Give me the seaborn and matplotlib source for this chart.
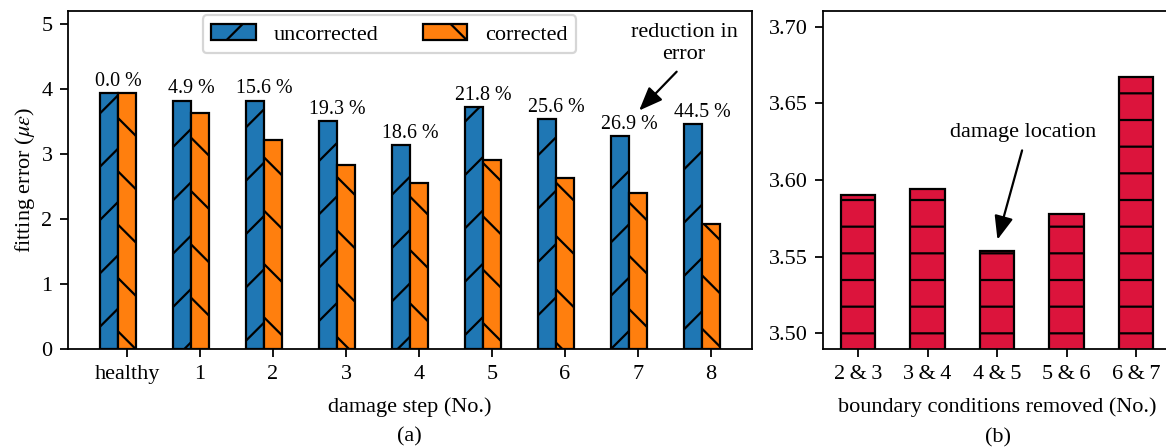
import numpy as np
import pandas as pd
import matplotlib
matplotlib.use("Agg")
import matplotlib.pyplot as plt
import seaborn as sns

# Data
steps = ["healthy", "1", "2", "3", "4", "5", "6", "7", "8"]
uncorrected = [3.93, 3.82, 3.82, 3.51, 3.13, 3.72, 3.53, 3.27, 3.46]
corrected = [3.93, 3.63, 3.22, 2.835, 2.55, 2.91, 2.63, 2.395, 1.92]
reduction = ["0.0 %", "4.9 %", "15.6 %", "19.3 %", "18.6 %",
             "21.8 %", "25.6 %", "26.9 %", "44.5 %"]
series_names = ["uncorrected", "corrected"]

pairs = ["2\u2009&\u20093", "3\u2009&\u20094", "4\u2009&\u20095", "5\u2009&\u20096", "6\u2009&\u20097"]
pair_errors = [3.590, 3.594, 3.554, 3.578, 3.667]

plt.rcParams["font.family"] = ["Liberation Serif", "DejaVu Serif"]
plt.rcParams["mathtext.fontset"] = "stix"
plt.rcParams["font.size"] = 10

df = pd.DataFrame({
    "step": steps * 2,
    "error": uncorrected + corrected,
    "kind": [series_names[0]] * len(steps) + [series_names[1]] * len(steps),
})

W, H, DPI = 1166, 447, 160
fig = plt.figure(figsize=(W / DPI, H / DPI), dpi=DPI)
ax1 = fig.add_axes([68 / W, 1 - 349.3 / H, 684 / W, 338.6 / H])
ax2 = fig.add_axes([823.3 / W, 1 - 349.3 / H, 347.5 / W, 338.6 / H])

arrow = dict(arrowstyle="-|>,head_length=0.5,head_width=0.2", mutation_scale=18,
             color="black", lw=1, relpos=(0.5, 0), shrinkB=0)

# (a) fitting error per damage step
sns.barplot(data=df, x="step", y="error", hue="kind", hue_order=series_names,
            order=steps, palette=["#1f77b4", "#ff7f0e"], saturation=1,
            width=0.5, gap=0, errorbar=None, edgecolor="black", linewidth=1,
            ax=ax1)
for cont, hatch in zip(ax1.containers, ["/", "\\"]):
    for bar in cont:
        bar.set_hatch(hatch)

ax1.set_xlim(-0.684, 8.686)
ax1.set_ylim(0, 5.2)
ax1.set_xticks(np.arange(len(steps)) + 0.125, steps)
ax1.set_xlabel("damage step (No.)", labelpad=6)
ax1.set_ylabel(r"fitting error ($\mu\varepsilon$)", labelpad=2)

for i, lab in enumerate(reduction):
    top = max(uncorrected[i], corrected[i])
    ax1.annotate(lab, (i, top), xytext=(0, 1), textcoords="offset points",
                 ha="center", va="bottom", fontsize=9)

ax1.legend(handles=ax1.containers[:2], labels=series_names, ncol=2,
           loc="upper center", bbox_to_anchor=(0.470, 0.987), borderaxespad=0)

ax1.annotate("reduction in\nerror", xy=(7.14, 3.667), xytext=(7.755, 4.694),
             ha="center", va="center", multialignment="center", arrowprops=arrow)

# (b) fitting error per removed boundary-condition pair
sns.barplot(x=pairs, y=pair_errors, color="crimson", saturation=1, width=0.5,
            edgecolor="black", linewidth=1, hatch="-", errorbar=None, ax=ax2)
ax2.set_xlim(-0.5, 4.5)
ax2.set_ylim(3.4896, 3.7104)
ax2.set_yticks(np.arange(3.50, 3.7001, 0.05))
ax2.yaxis.set_major_formatter(matplotlib.ticker.FormatStrFormatter("%.2f"))
ax2.set_xlabel("boundary conditions removed (No.)", labelpad=6)

ax2.annotate("damage location", xy=(2.006, 3.5611), xytext=(2.374, 3.6312),
             ha="center", va="center", arrowprops=dict(arrow, relpos=(0.51, 0)))

fig.text(409 / W, 1 - 436.5 / H, "(a)", ha="center", va="center")
fig.text(998 / W, 1 - 437.5 / H, "(b)", ha="center", va="center")

fig.savefig("out.png", dpi=DPI)
